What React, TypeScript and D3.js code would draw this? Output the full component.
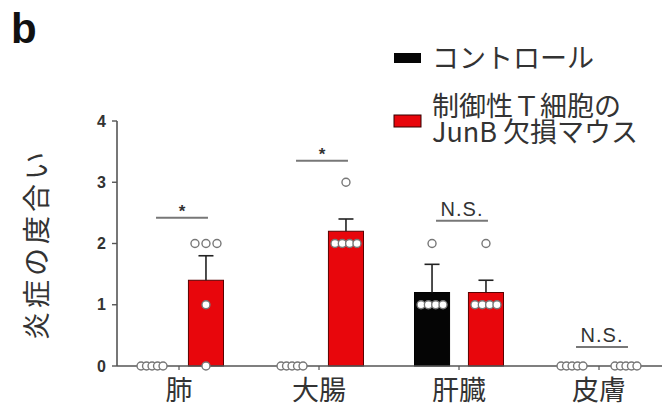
import React from "react";
import * as d3 from "d3";

// Organs (x categories) and the two mouse groups
const organs = ["肺", "大腸", "肝臓", "皮膚"];
const groups = ["control", "junb"];
const groupLabels = ["コントロール", "制御性Ｔ細胞の", "JunB 欠損マウス"];

// Bar heights (mean inflammation score) per organ: [control, JunB KO]
const meanControl = [0, 0, 1.2, 0];
const meanJunB = [1.4, 2.2, 1.2, 0];
// Upper end of the error bars
const errTopControl = [0, 0, 1.66, 0];
const errTopJunB = [1.8, 2.4, 1.4, 0];

// Individual animal scores
const dotsControl = [
  [0, 0, 0, 0, 0],
  [0, 0, 0, 0, 0],
  [2, 1, 1, 1, 1],
  [0, 0, 0, 0, 0],
];
const dotsJunB = [
  [2, 2, 2, 1, 0],
  [3, 2, 2, 2, 2],
  [2, 1, 1, 1, 1],
  [0, 0, 0, 0, 0],
];

// Significance brackets: label and height (score units)
const sigLabels = ["*", "*", "N.S.", "N.S."];
const sigLevels = [2.42, 3.35, 2.37, 0.31];

const yTicks = [0, 1, 2, 3, 4];

const W = 664;
const H = 408;
const COLORS = { control: "#050505", junb: "#e8060c" };
const TEXT = "#333";
const AXIS = "#555";

export default function App() {
  const y = d3.scaleLinear().domain([0, 4]).range([366, 121]);
  const x = d3.scaleBand<string>().domain(organs).range([109, 669]).padding(0);
  const inner = d3
    .scaleBand<string>()
    .domain(groups)
    .range([-44.5, 44.5])
    .paddingInner(0.35)
    .paddingOuter(0);
  const bw = inner.bandwidth();
  const axisX = 117;
  const dotR = 4;
  const spreadW = 30;

  const center = (organ: string) => (x(organ) ?? 0) + x.bandwidth() / 2;
  const barCenter = (organ: string, g: string) =>
    center(organ) + (inner(g) ?? 0) + bw / 2;

  // lay identical values side by side across a fixed width
  const dotPositions = (vals: number[], cx: number) => {
    const byVal = d3.group(vals, (v) => v);
    const out: { x: number; v: number }[] = [];
    byVal.forEach((arr, v) => {
      const n = arr.length;
      const step = n > 1 ? (spreadW - 2 * dotR) / (n - 1) : 0;
      arr.forEach((_, i) => {
        out.push({ x: cx - ((n - 1) * step) / 2 + i * step, v });
      });
    });
    return out;
  };

  const series = [
    { key: "control", means: meanControl, errs: errTopControl, dots: dotsControl },
    { key: "junb", means: meanJunB, errs: errTopJunB, dots: dotsJunB },
  ];

  return (
    <svg
      width={W}
      height={H}
      style={{ position: "fixed", left: 0, top: 0, background: "#fff" }}
      fontFamily="'Liberation Sans', Arial, sans-serif"
    >
      {/* panel letter */}
      <text x={11} y={43} fontSize={42} fontWeight="bold" fill="#111">
        b
      </text>

      {/* legend */}
      <g fontFamily="'Noto Sans CJK JP', sans-serif" fill={TEXT}>
        <rect x={394} y={53} width={27} height={10} fill={COLORS.control} />
        <text x={432} y={56} fontSize={27} dominantBaseline="central">
          {groupLabels[0]}
        </text>
        <rect x={394} y={115} width={27} height={12} fill={COLORS.junb} stroke="#300" strokeWidth={1} />
        <text x={432} y={116} fontSize={27}>
          <tspan x={432}>{groupLabels[1]}</tspan>
          <tspan x={432} dy={26}>{groupLabels[2]}</tspan>
        </text>
      </g>

      {/* y axis label */}
      <text
        transform="translate(35,244) rotate(-90)"
        textAnchor="middle"
        dominantBaseline="central"
        fontSize={28}
        letterSpacing={4}
        fill={TEXT}
        fontFamily="'Noto Sans CJK JP', sans-serif"
      >
        炎症の度合い
      </text>

      {/* bars */}
      {series.map((s) =>
        organs.map((o, i) =>
          s.means[i] > 0 ? (
            <rect
              key={`bar-${s.key}-${o}`}
              x={barCenter(o, s.key) - bw / 2}
              y={y(s.means[i])}
              width={bw}
              height={y(0) - y(s.means[i])}
              fill={COLORS[s.key as "control" | "junb"]}
              stroke={s.key === "junb" ? "#5a0000" : "#000"}
              strokeWidth={1}
            />
          ) : null
        )
      )}

      {/* error bars */}
      {series.map((s) =>
        organs.map((o, i) =>
          s.errs[i] > s.means[i] ? (
            <g key={`err-${s.key}-${o}`} stroke="#222" strokeWidth={1.6}>
              <line
                x1={barCenter(o, s.key)}
                x2={barCenter(o, s.key)}
                y1={y(s.means[i])}
                y2={y(s.errs[i])}
              />
              <line
                x1={barCenter(o, s.key) - 7.5}
                x2={barCenter(o, s.key) + 7.5}
                y1={y(s.errs[i])}
                y2={y(s.errs[i])}
              />
            </g>
          ) : null
        )
      )}

      {/* axes */}
      <line x1={axisX} x2={axisX} y1={y(4)} y2={y(0)} stroke={AXIS} strokeWidth={1.6} />
      <line x1={axisX} x2={662} y1={y(0)} y2={y(0)} stroke={AXIS} strokeWidth={1.6} />
      {yTicks.map((t) => (
        <g key={`yt-${t}`}>
          <line x1={axisX - 5} x2={axisX} y1={y(t)} y2={y(t)} stroke={AXIS} strokeWidth={1.4} />
          <text
            x={106}
            y={y(t)}
            textAnchor="end"
            dominantBaseline="central"
            fontSize={16}
            fontWeight="bold"
            fill={TEXT}
          >
            {t}
          </text>
        </g>
      ))}
      {organs.map((o) => (
        <g key={`xt-${o}`}>
          <line x1={center(o)} x2={center(o)} y1={y(0)} y2={y(0) + 4} stroke={AXIS} strokeWidth={1.2} />
          <text
            x={center(o)}
            y={400}
            textAnchor="middle"
            fontSize={27}
            fill={TEXT}
            fontFamily="'Noto Sans CJK JP', sans-serif"
          >
            {o}
          </text>
        </g>
      ))}

      {/* individual points */}
      {series.map((s) =>
        organs.map((o, i) =>
          dotPositions(s.dots[i], barCenter(o, s.key)).map((d, j) => (
            <circle
              key={`dot-${s.key}-${o}-${j}`}
              cx={d.x}
              cy={y(d.v)}
              r={dotR}
              fill="#fff"
              stroke="#777"
              strokeWidth={1.4}
            />
          ))
        )
      )}

      {/* significance brackets */}
      {organs.map((o, i) => {
        const x1 = barCenter(o, "control") + 4;
        const x2 = barCenter(o, "junb") + 2;
        const yy = y(sigLevels[i]);
        const isStar = sigLabels[i] === "*";
        return (
          <g key={`sig-${o}`}>
            <line x1={x1} x2={x2} y1={yy} y2={yy} stroke="#777" strokeWidth={2} />
            <text
              x={(x1 + x2) / 2}
              y={isStar ? yy - 1 : yy - 5}
              textAnchor="middle"
              fontSize={isStar ? 17 : 20}
              fontWeight={isStar ? "bold" : "normal"}
              letterSpacing={isStar ? 0 : 1}
              fill={TEXT}
            >
              {sigLabels[i]}
            </text>
          </g>
        );
      })}
    </svg>
  );
}
